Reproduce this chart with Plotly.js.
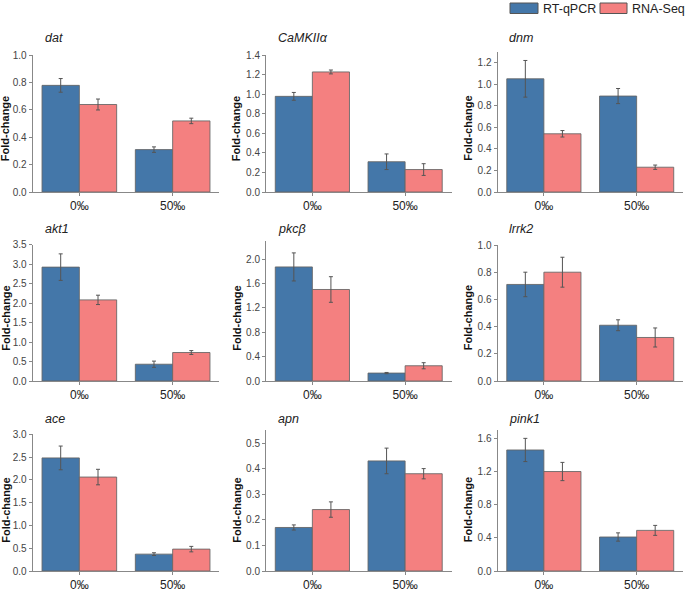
<!DOCTYPE html>
<html>
<head>
<meta charset="utf-8">
<script src="https://cdn.plot.ly/plotly-3.0.1.min.js"></script>
<style>html,body{margin:0;padding:0;background:#fff}#chart{width:685px;height:592px}</style>
</head>
<body>
<div id="chart"></div>
<script>
// ---- data ----
const genes = ['dat', 'CaMKIIα', 'dnm', 'akt1', 'pkcβ', 'lrrk2', 'ace', 'apn', 'pink1'];
const groups = ['0‰', '50‰'];
const seriesNames = ['RT-qPCR', 'RNA-Seq'];
const qpcrVals = [[0.78, 0.31], [0.98, 0.31], [1.05, 0.89], [2.92, 0.43], [1.87, 0.13], [0.71, 0.41], [2.48, 0.37], [0.17, 0.43], [1.46, 0.41]];
const qpcrErr  = [[0.05, 0.02], [0.04, 0.08], [0.17, 0.07], [0.34, 0.08], [0.23, 0.01], [0.09, 0.04], [0.26, 0.03], [0.01, 0.05], [0.14, 0.05]];
const seqVals  = [[0.64, 0.52], [1.23, 0.23], [0.54, 0.23], [2.08, 0.73], [1.50, 0.25], [0.80, 0.32], [2.06, 0.48], [0.24, 0.38], [1.20, 0.49]];
const seqErr   = [[0.04, 0.02], [0.02, 0.06], [0.03, 0.02], [0.12, 0.05], [0.21, 0.05], [0.11, 0.07], [0.17, 0.06], [0.03, 0.02], [0.11, 0.06]];
const yMax  = [1.0, 1.4, 1.3, 3.5, 2.3, 1.0, 3.0, 0.55, 1.7];
const yStep = [0.2, 0.2, 0.2, 0.5, 0.4, 0.2, 0.5, 0.1, 0.4];

// ---- layout helpers ----
const W = 685, H = 592;
const px = x => x / W;
const py = y => 1 - y / H;
const colX = [[32.7, 219.3], [266, 451.5], [497.5, 683]];
const rowBottom = [192, 381, 571];
const titleX = [43, 275.7, 506.7];
const titleY = [38, 229, 419];
const yTitleX = [5.7, 236.7, 468.3];
const yTitleY = [128.5, 318, 510];
const blue = '#4477a9';
const pink = '#f48080';
const FONT = 'Liberation Sans, Arial, sans-serif';

const traces = [];
const layout = {
  width: W, height: H,
  margin: {l: 0, r: 0, t: 0, b: 0},
  paper_bgcolor: '#ffffff', plot_bgcolor: '#ffffff',
  barmode: 'group', bargap: 0.2, bargroupgap: 0,
  showlegend: false,
  font: {family: FONT, color: '#333'},
  annotations: [], shapes: []
};

genes.forEach((g, i) => {
  const r = Math.floor(i / 3), c = i % 3;
  const n = i + 1;
  const xa = 'x' + (n === 1 ? '' : n), ya = 'y' + (n === 1 ? '' : n);
  const xKey = 'xaxis' + (n === 1 ? '' : n), yKey = 'yaxis' + (n === 1 ? '' : n);
  // pixels per unit of each panel's y scale
  const pxPerUnit = {0: 136.7, 1: 97.6, 2: 107.8, 3: 39.0, 4: 61.0, 5: 136.0, 6: 45.6, 7: 256.0, 8: 82.9}[i];
  const top = rowBottom[r] - yMax[i] * pxPerUnit;
  const mk = (vals, errs, name, color) => ({
    type: 'bar', x: groups, y: vals[i], name: name,
    xaxis: xa, yaxis: ya,
    marker: {color: color, line: {color: 'rgba(100,100,100,0.85)', width: 1}},
    error_y: {type: 'data', array: errs[i], visible: true, color: '#555', thickness: 1, width: 2},
    hoverinfo: 'y'
  });
  traces.push(mk(qpcrVals, qpcrErr, seriesNames[0], blue));
  traces.push(mk(seqVals, seqErr, seriesNames[1], pink));
  layout[xKey] = {
    domain: [px(colX[c][0]), px(colX[c][1])],
    anchor: ya, type: 'category', range: [-0.5, 1.5],
    showline: true, linecolor: '#888', linewidth: 1,
    ticks: 'outside', ticklen: 3, tickcolor: '#888',
    tickfont: {size: 12, color: '#222', family: FONT},
    showgrid: false, zeroline: false, fixedrange: true
  };
  layout[yKey] = {
    domain: [py(rowBottom[r]), py(top)],
    anchor: xa, range: [0, yMax[i]], dtick: yStep[i], tick0: 0,
    tickformat: '.1f',
    showline: true, linecolor: '#888', linewidth: 1,
    ticks: 'outside', ticklen: 3, tickcolor: '#888',
    tickfont: {size: 10, color: '#444', family: FONT},
    showgrid: false, zeroline: false, fixedrange: true
  };
  layout.annotations.push({
    xref: 'paper', yref: 'paper', x: px(titleX[c]), y: py(titleY[r]),
    xanchor: 'left', yanchor: 'middle', showarrow: false,
    text: '<i>' + g + '</i>', font: {size: 12.5, color: '#222', family: FONT}
  });
  layout.annotations.push({
    xref: 'paper', yref: 'paper', x: px(yTitleX[c]), y: py(yTitleY[r]),
    xanchor: 'center', yanchor: 'middle', showarrow: false, textangle: -90,
    text: '<b>Fold-change</b>', font: {size: 11, color: '#111', family: FONT}
  });
});

// legend drawn as boxes + labels
const legendItems = [
  {x0: 510, x1: 538, tx: 540.5, color: blue, label: seriesNames[0]},
  {x0: 600, x1: 627, tx: 630, color: pink, label: seriesNames[1]}
];
legendItems.forEach(it => {
  layout.shapes.push({
    type: 'rect', xref: 'paper', yref: 'paper',
    x0: px(it.x0), x1: px(it.x1), y0: py(13.5), y1: py(3),
    fillcolor: it.color, line: {color: '#555', width: 1}
  });
  layout.annotations.push({
    xref: 'paper', yref: 'paper', x: px(it.tx), y: py(8.5),
    xanchor: 'left', yanchor: 'middle', showarrow: false,
    text: it.label, font: {size: 12.5, color: '#222', family: FONT}
  });
});

Plotly.newPlot('chart', traces, layout, {displayModeBar: false, staticPlot: true});
</script>
</body>
</html>
